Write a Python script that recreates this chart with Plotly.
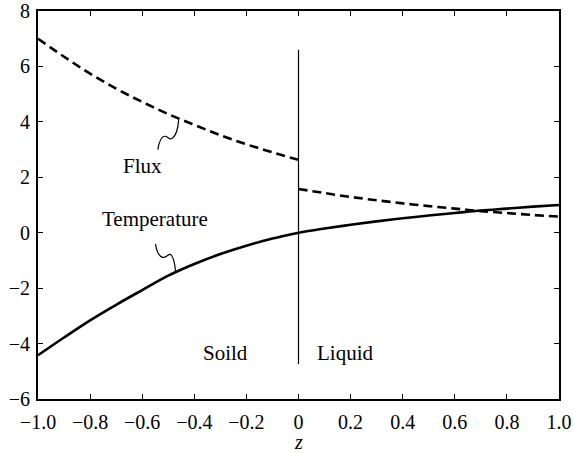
import plotly.graph_objects as go

# Data
z_solid = [-1.0, -0.9, -0.8, -0.7, -0.6, -0.5, -0.4, -0.3, -0.2, -0.1, 0.0]
z_liquid = [0.0, 0.1, 0.2, 0.3, 0.4, 0.5, 0.6, 0.7, 0.8, 0.9, 1.0]
temp_solid = [-4.42, -3.78, -3.16, -2.60, -2.07, -1.55, -1.13, -0.77, -0.47, -0.21, 0.0]
temp_liquid = [0.0, 0.15, 0.286, 0.41, 0.52, 0.62, 0.71, 0.80, 0.87, 0.94, 1.0]
flux_solid = [7.0, 6.35, 5.74, 5.20, 4.72, 4.28, 3.89, 3.52, 3.19, 2.90, 2.63]
flux_liquid = [1.58, 1.43, 1.29, 1.17, 1.06, 0.96, 0.87, 0.78, 0.71, 0.64, 0.58]

x_tickvals = [-1.0, -0.8, -0.6, -0.4, -0.2, 0.0, 0.2, 0.4, 0.6, 0.8, 1.0]
x_ticktext = ["\u22121.0", "\u22120.8", "\u22120.6", "\u22120.4", "\u22120.2", "0",
              "0.2", "0.4", "0.6", "0.8", "1.0"]
y_tickvals = [-6, -4, -2, 0, 2, 4, 6, 8]
y_ticktext = ["\u22126", "\u22124", "\u22122", "0", "2", "4", "6", "8"]

interface_z = 0.0
interface_span = [-4.74, 6.6]

FONT = "Liberation Serif"

fig = go.Figure()
fig.add_trace(go.Scatter(x=z_solid, y=flux_solid, mode="lines",
                         line=dict(color="black", width=2.6, dash="9px,5px"),
                         line_shape="spline", showlegend=False))
fig.add_trace(go.Scatter(x=z_liquid, y=flux_liquid, mode="lines",
                         line=dict(color="black", width=2.6, dash="9px,5px"),
                         line_shape="spline", showlegend=False))
fig.add_trace(go.Scatter(x=z_solid, y=temp_solid, mode="lines",
                         line=dict(color="black", width=2.6),
                         line_shape="spline", showlegend=False))
fig.add_trace(go.Scatter(x=z_liquid, y=temp_liquid, mode="lines",
                         line=dict(color="black", width=2.6),
                         line_shape="spline", showlegend=False))

# interface line
fig.add_shape(type="line", x0=interface_z, x1=interface_z,
              y0=interface_span[0], y1=interface_span[1],
              xref="x", yref="y", line=dict(color="black", width=1.2))

# squiggle leaders
fig.add_shape(type="path", xref="x", yref="y",
              path="M -0.540,3.0 C -0.535,3.3 -0.525,3.5 -0.510,3.48 "
                   "C -0.500,3.45 -0.495,3.35 -0.485,3.40 "
                   "C -0.470,3.5 -0.462,3.8 -0.460,4.08",
              line=dict(color="black", width=1.2))
fig.add_shape(type="path", xref="x", yref="y",
              path="M -0.549,-0.41 C -0.545,-0.65 -0.535,-0.85 -0.522,-0.89 "
                   "C -0.510,-0.92 -0.500,-0.76 -0.492,-0.78 "
                   "C -0.482,-0.84 -0.475,-1.1 -0.472,-1.38",
              line=dict(color="black", width=1.2))

ann_font = dict(family=FONT, size=21, color="black")
fig.add_annotation(x=-0.60, y=2.4, text="Flux", showarrow=False, font=ann_font)
fig.add_annotation(x=-0.549, y=0.5, text="Temperature", showarrow=False, font=ann_font)
fig.add_annotation(x=-0.28, y=-4.35, text="Soild", showarrow=False, font=ann_font)
fig.add_annotation(x=0.18, y=-4.35, text="Liquid", showarrow=False, font=ann_font)

# axis title as a paper-anchored annotation
fig.add_annotation(x=0.5, y=-0.077, xref="paper", yref="paper", yanchor="top",
                   text="<i>z</i>", showarrow=False,
                   font=dict(family=FONT, size=20, color="black"))

axis_common = dict(showgrid=False, zeroline=False, showline=True, linecolor="black",
                   linewidth=2, mirror="ticks", ticks="inside", ticklen=5,
                   tickwidth=1, tickcolor="black", automargin=False,
                   ticklabeloverflow="allow",
                   tickfont=dict(family=FONT, size=20, color="black"))

fig.update_xaxes(range=[-1, 1], tickvals=x_tickvals, ticktext=x_ticktext,
                 ticklabelstandoff=4, **axis_common)
fig.update_yaxes(range=[-6, 8], tickvals=y_tickvals, ticktext=y_ticktext,
                 ticklabelstandoff=2, **axis_common)

fig.update_layout(width=574, height=453, margin=dict(l=38, r=15, t=11, b=54),
                  plot_bgcolor="white", paper_bgcolor="white")

fig.write_html("out.html")
